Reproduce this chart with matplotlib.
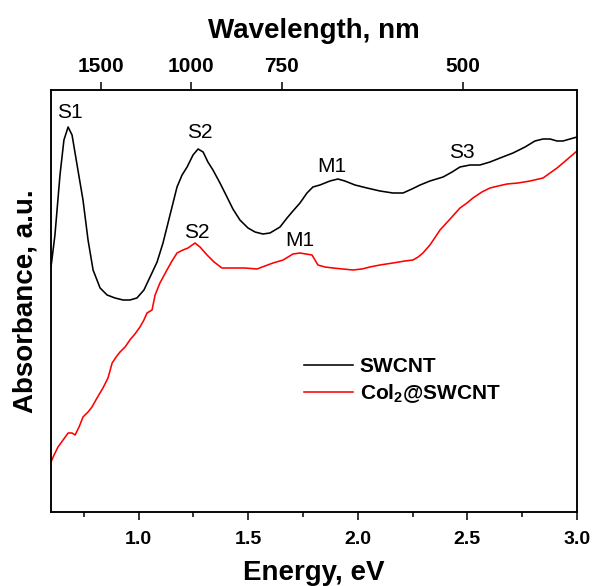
import matplotlib
matplotlib.use("Agg")
import matplotlib.pyplot as plt
import numpy as np
from matplotlib.ticker import MultipleLocator

plt.rcParams['font.family'] = ['Liberation Sans', 'DejaVu Sans']
plt.rcParams['mathtext.fontset'] = 'custom'
plt.rcParams['mathtext.rm'] = 'Liberation Sans'
plt.rcParams['mathtext.bf'] = 'Liberation Sans:bold'

# ---- data (energy in eV, absorbance in a.u.) ----
swcnt_E = [0.600, 0.618, 0.641, 0.659, 0.678, 0.696, 0.719, 0.746, 0.769, 0.792,
           0.824, 0.856, 0.892, 0.929, 0.960, 0.992, 1.024, 1.052, 1.084, 1.111,
           1.143, 1.175, 1.198, 1.221, 1.248, 1.271, 1.294, 1.316, 1.339, 1.371,
           1.403, 1.430, 1.462, 1.499, 1.531, 1.567, 1.599, 1.645, 1.677, 1.704,
           1.736, 1.768, 1.795, 1.827, 1.873, 1.909, 1.941, 1.987, 2.042, 2.101,
           2.160, 2.206, 2.247, 2.284, 2.329, 2.389, 2.430, 2.466, 2.512, 2.557,
           2.603, 2.649, 2.708, 2.763, 2.808, 2.845, 2.877, 2.909, 2.936, 2.968,
           3.000]
swcnt_A = [2.45, 2.77, 3.37, 3.72, 3.85, 3.77, 3.47, 3.12, 2.72, 2.42,
           2.24, 2.17, 2.14, 2.12, 2.12, 2.14, 2.22, 2.35, 2.50, 2.69,
           2.97, 3.25, 3.37, 3.45, 3.57, 3.63, 3.60, 3.50, 3.42, 3.29,
           3.15, 3.03, 2.92, 2.84, 2.80, 2.78, 2.79, 2.85, 2.94, 3.01,
           3.09, 3.19, 3.25, 3.27, 3.31, 3.33, 3.31, 3.27, 3.24, 3.21,
           3.19, 3.19, 3.23, 3.27, 3.31, 3.35, 3.40, 3.45, 3.47, 3.47,
           3.50, 3.54, 3.59, 3.65, 3.71, 3.73, 3.73, 3.71, 3.71, 3.73,
           3.75]

col_E = [0.600, 0.614, 0.632, 0.655, 0.678, 0.696, 0.710, 0.728, 0.746, 0.769,
         0.787, 0.810, 0.837, 0.851, 0.860, 0.879, 0.897, 0.915, 0.938, 0.960,
         0.983, 1.006, 1.024, 1.038, 1.061, 1.075, 1.097, 1.129, 1.152, 1.175,
         1.202, 1.225, 1.257, 1.280, 1.312, 1.344, 1.380, 1.440, 1.485, 1.540,
         1.576, 1.613, 1.659, 1.704, 1.736, 1.763, 1.791, 1.818, 1.850, 1.887,
         1.932, 1.978, 2.019, 2.055, 2.101, 2.160, 2.215, 2.252, 2.275, 2.297,
         2.329, 2.375, 2.421, 2.466, 2.498, 2.525, 2.566, 2.603, 2.640, 2.681,
         2.731, 2.786, 2.845, 2.877, 2.909, 2.936, 2.968, 3.000]
col_A = [0.50, 0.57, 0.65, 0.72, 0.79, 0.79, 0.77, 0.85, 0.95, 1.00,
         1.05, 1.14, 1.24, 1.30, 1.34, 1.49, 1.55, 1.60, 1.65, 1.72,
         1.78, 1.85, 1.92, 1.99, 2.02, 2.17, 2.29, 2.42, 2.51, 2.59,
         2.62, 2.64, 2.69, 2.65, 2.57, 2.50, 2.44, 2.44, 2.44, 2.43,
         2.46, 2.49, 2.52, 2.58, 2.59, 2.58, 2.57, 2.47, 2.45, 2.44,
         2.43, 2.42, 2.43, 2.45, 2.47, 2.49, 2.51, 2.52, 2.55, 2.59,
         2.67, 2.82, 2.93, 3.04, 3.09, 3.14, 3.20, 3.24, 3.26, 3.28,
         3.29, 3.31, 3.34, 3.39, 3.44, 3.49, 3.55, 3.61]

wl_ticks = [1500, 1000, 750, 500]

labels_txt = ["S1", "S2", "M1", "S3", "S2", "M1"]
labels_E = [0.687, 1.280, 1.882, 2.475, 1.266, 1.736]
labels_A = [3.99, 3.79, 3.46, 3.60, 2.80, 2.72]

# ---- figure ----
fig = plt.figure(figsize=(5.93, 5.86), dpi=100)
ax = fig.add_axes([51/593, 1-512/586, (577-51)/593, (512-90)/586])

ax.plot(swcnt_E, swcnt_A, color='black', lw=1.15, label='SWCNT')
ax.plot(col_E, col_A, color='#ff0000', lw=1.15, label='Col$_{\\mathbf{2}}$@SWCNT')

ax.set_xlim(0.6, 3.0)
ax.set_ylim(0.0, 4.22)
ax.set_yticks([])
ax.xaxis.set_major_locator(MultipleLocator(0.5))
ax.xaxis.set_minor_locator(MultipleLocator(0.25))
ax.tick_params(axis='x', which='major', direction='out', length=6, width=1.1,
               labelsize=14, pad=8)
ax.tick_params(axis='x', which='minor', direction='out', length=3.5, width=1.1)
for lab in ax.get_xticklabels():
    lab.set_fontweight('bold')
for s in ax.spines.values():
    s.set_linewidth(1.1)

ax.set_xlabel('Energy, eV', fontsize=20, fontweight='bold', labelpad=8)
ax.set_ylabel('Absorbance, a.u.', fontsize=20, fontweight='bold', labelpad=9)

# top wavelength axis
ax2 = ax.twiny()
ax2.set_xlim(ax.get_xlim())
ax2.set_xticks([1240.0 / w for w in wl_ticks])
ax2.set_xticklabels([str(w) for w in wl_ticks], fontsize=15, fontweight='bold')
ax2.tick_params(axis='x', direction='out', length=6, width=1.1, pad=4)
ax2.set_xlabel('Wavelength, nm', fontsize=20, fontweight='bold', labelpad=14)
for s in ax2.spines.values():
    s.set_linewidth(1.1)

for t, x, y in zip(labels_txt, labels_E, labels_A):
    ax.text(x, y, t, fontsize=15, ha='center', va='center')

leg = ax.legend(loc='center left', bbox_to_anchor=(0.462, 0.31), frameon=False,
                handlelength=2.35, handletextpad=0.3, labelspacing=0.3,
                borderpad=0, prop={'size': 15, 'weight': 'bold'})

fig.savefig('out.png', dpi=100)
